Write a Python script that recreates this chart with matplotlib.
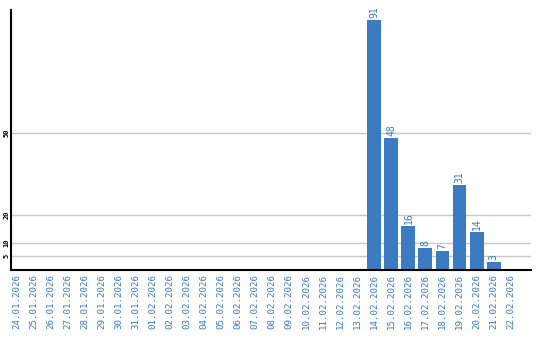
import numpy as np
import matplotlib
matplotlib.use('Agg')
import matplotlib.pyplot as plt

dates = ['24.01.2026', '25.01.2026', '26.01.2026', '27.01.2026', '28.01.2026',
         '29.01.2026', '30.01.2026', '31.01.2026', '01.02.2026', '02.02.2026',
         '03.02.2026', '04.02.2026', '05.02.2026', '06.02.2026', '07.02.2026',
         '08.02.2026', '09.02.2026', '10.02.2026', '11.02.2026', '12.02.2026',
         '13.02.2026', '14.02.2026', '15.02.2026', '16.02.2026', '17.02.2026',
         '18.02.2026', '19.02.2026', '20.02.2026', '21.02.2026', '22.02.2026']
counts = [0, 0, 0, 0, 0, 0, 0, 0, 0, 0,
          0, 0, 0, 0, 0, 0, 0, 0, 0, 0,
          0, 91, 48, 16, 8, 7, 31, 14, 3, 0]
yticks = [5, 10, 20, 50]

blue = '#3a7bc1'
mono = 'DejaVu Sans Mono'

fig = plt.figure(figsize=(5.4, 3.4), dpi=100)
ax = fig.add_axes([11/540, 70/340, 520/540, 260/340])

x = np.arange(len(dates))
ax.bar(x, counts, width=0.82, color=blue, zorder=3)
for i, v in enumerate(counts):
    if v > 0:
        ax.text(i, v + 0.6, str(v), rotation=90, ha='center', va='bottom',
                color=blue, fontsize=7, family=mono)

ax.set_xlim(-0.35, len(dates) - 1 + 1.2)
ax.set_ylim(0, 94.6)
ax.set_xticks(x)
ax.set_xticklabels(dates, rotation=90, color=blue, fontsize=6.6, family=mono)
ax.set_yticks(yticks)
ax.set_yticklabels([str(t) for t in yticks], rotation=90, va='center',
                   fontsize=5, family=mono, fontweight='bold')
ax.tick_params(axis='x', length=0, pad=3)
ax.tick_params(axis='y', length=0, pad=1)
ax.grid(axis='y', color='#c8c8c8', linewidth=1, zorder=0)

for s in ['top', 'right']:
    ax.spines[s].set_visible(False)
for s in ['left', 'bottom']:
    ax.spines[s].set_linewidth(1.5)
    ax.spines[s].set_zorder(4)

plt.savefig('out.png', dpi=100)
